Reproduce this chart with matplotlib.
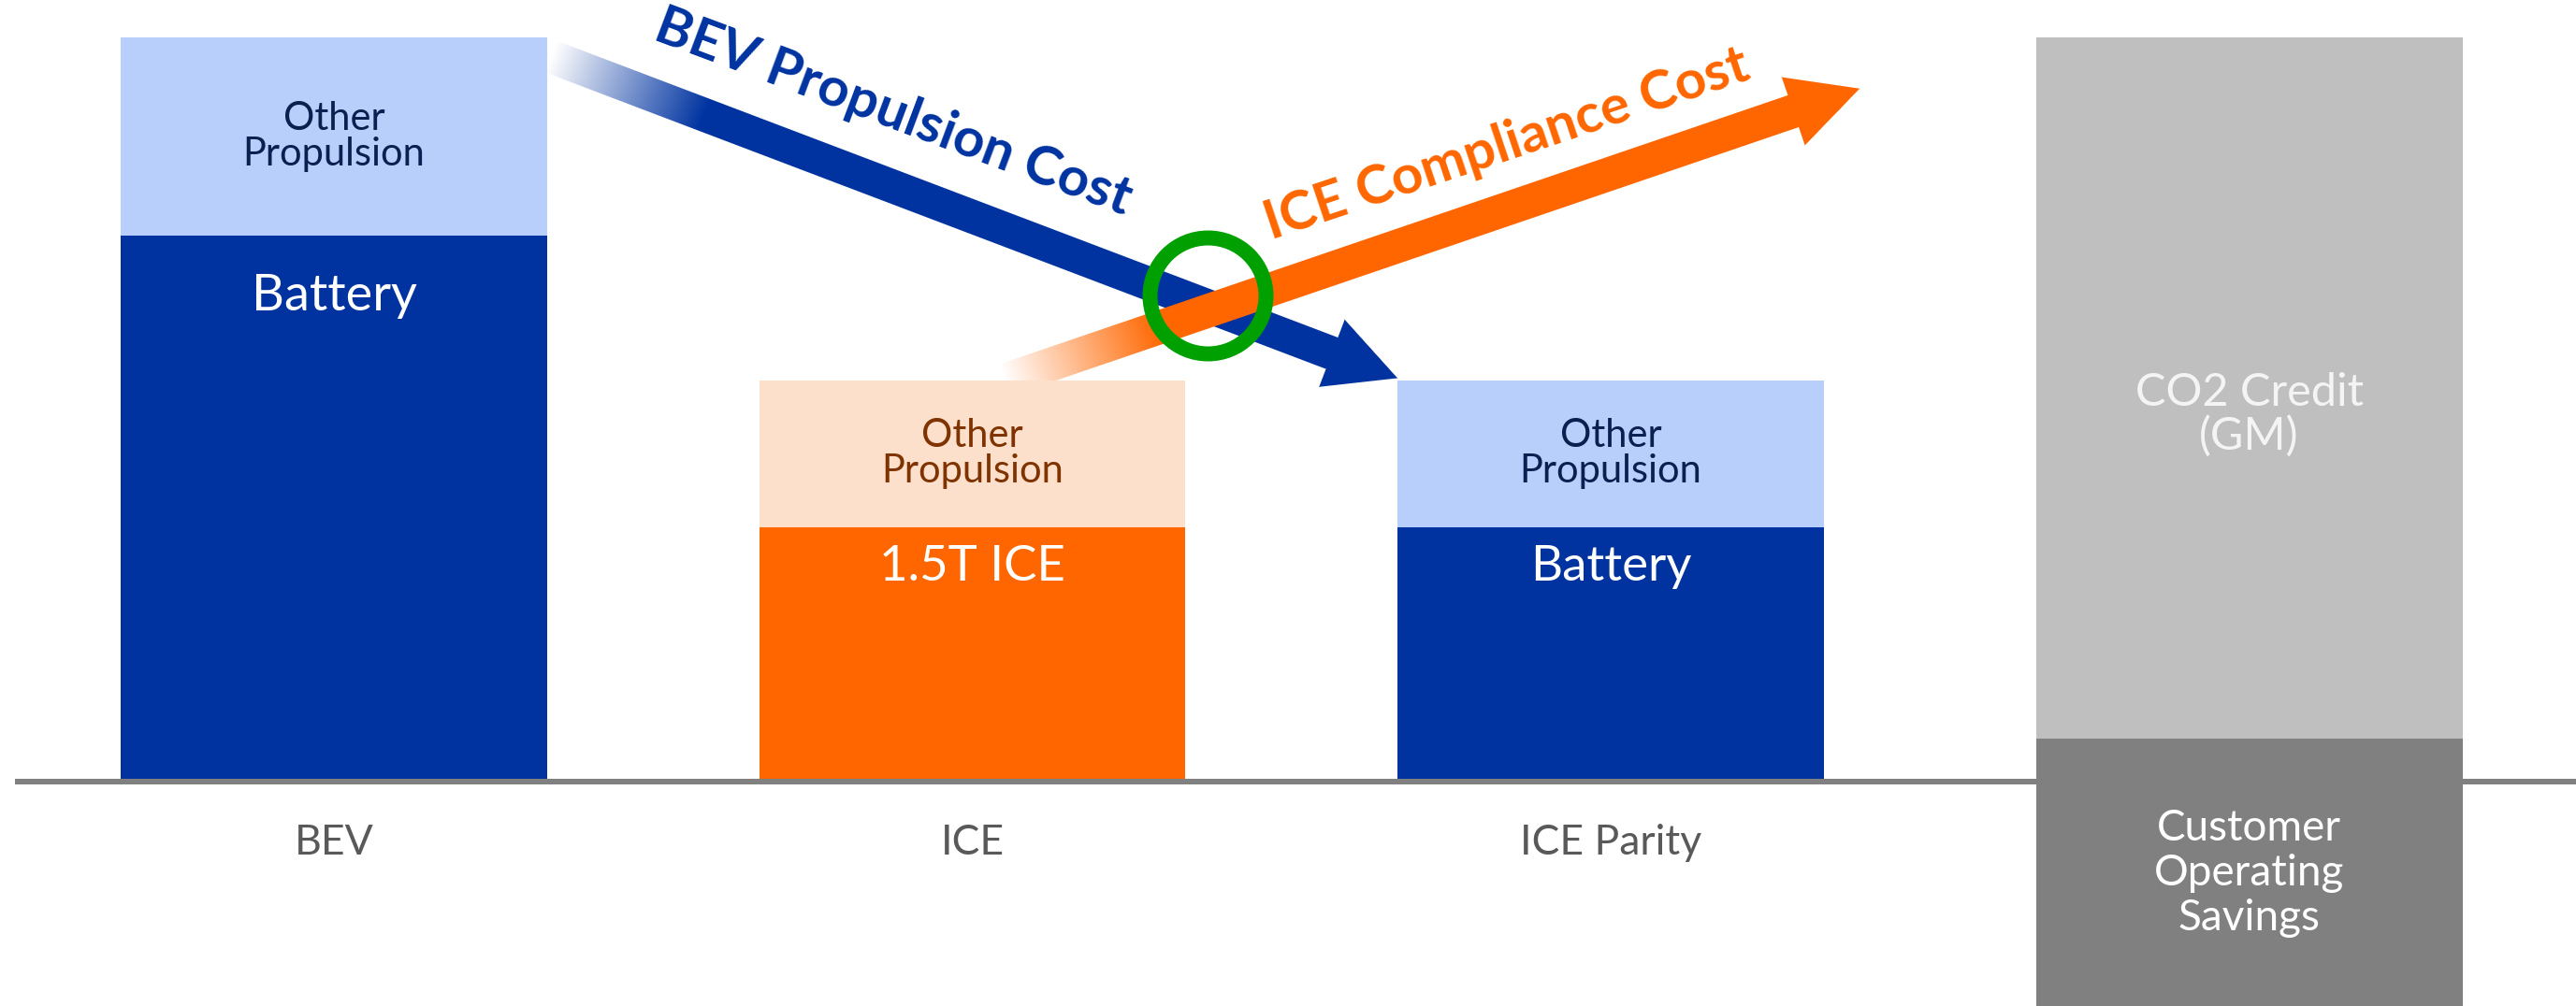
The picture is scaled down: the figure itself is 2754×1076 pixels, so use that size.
import numpy as np
import matplotlib
matplotlib.use("Agg")
import matplotlib.pyplot as plt
from matplotlib.colors import to_rgb

# ---------------- data ----------------
categories = ["BEV", "ICE", "ICE Parity"]
core_values = [73.4, 34.2, 34.2]          # Battery / 1.5T ICE / Battery
other_values = [26.6, 19.7, 19.7]         # Other Propulsion
core_labels = ["Battery", "1.5T ICE", "Battery"]
other_labels = ["Other\nPropulsion", "Other\nPropulsion", "Other\nPropulsion"]

savings_bottom = -40.0                    # Customer Operating Savings (runs off the page)
savings_top = 5.8
co2_credit = 94.2                         # CO2 Credit (GM), stacked on savings
offset_labels = ["Customer\nOperating\nSavings", "CO2 Credit\n(GM)"]

arrow_labels = ["BEV Propulsion Cost", "ICE Compliance Cost"]
orange_arrow_end = (2.39, 93.1)
crossing_mark = (1.3685, 65.3)

# ---------------- style ----------------
plt.rcParams['font.family'] = ['Lato', 'DejaVu Sans']
BLUE = "#0033A0"
LBLUE = "#B9CFFB"
ORANGE = "#FF6600"
LORANGE = "#FDE0CC"
GRAY_D = "#808080"
GRAY_L = "#BFBFBF"
GREEN = "#00A000"

core_colors = [BLUE, ORANGE, BLUE]
other_colors = [LBLUE, LORANGE, LBLUE]
other_text_colors = ["#0B1F51", "#7F3300", "#0B1F51"]

fig = plt.figure(figsize=(27.54, 10.76), dpi=100)
ax = fig.add_axes([0, 0, 1, 1])
XL = (-0.523, 3.512)
YL = (-30.15, 105.0)
ax.set_xlim(*XL)
ax.set_ylim(*YL)
ax.axis("off")
ax.set_autoscale_on(False)

x = np.arange(len(categories) + 1)
width = 0.668

ax.bar(x[:3], core_values, width, color=core_colors, zorder=2)
ax.bar(x[:3], other_values, width, bottom=core_values, color=other_colors, zorder=2)
ax.bar(x[3], savings_top - savings_bottom, width, bottom=savings_bottom, color=GRAY_D, zorder=2)
ax.bar(x[3], co2_credit, width, bottom=savings_top, color=GRAY_L, zorder=2)

ax.hlines(0, -0.5, XL[1], color=GRAY_D, lw=6 * 0.72, zorder=3)

# ---------------- labels ----------------
PX = 0.72  # points per pixel at 100 dpi
core_offsets_px = [80, 57, 57]
core_sizes = [39, 38, 38]
for i in range(3):
    ax.text(x[i], core_values[i] + other_values[i] / 2, other_labels[i], ha="center", va="center",
            fontsize=30, color=other_text_colors[i], linespacing=1.0, zorder=5)
    ax.annotate(core_labels[i], (x[i], core_values[i]), xytext=(0, -core_offsets_px[i] * PX),
                textcoords="offset points", ha="center", va="baseline",
                fontsize=core_sizes[i], color="white", zorder=5)
    ax.text(x[i], -9.8, categories[i], ha="center", va="baseline", fontsize=32,
            color="#595959", zorder=5)

ax.text(x[3], -12.3, offset_labels[0], ha="center", va="center", fontsize=33,
        color="white", linespacing=1.17, zorder=5)
ax.text(x[3], 49.3, offset_labels[1], ha="center", va="center", fontsize=35,
        color="#F4F4F4", linespacing=1.05, zorder=5)

# ---------------- arrows ----------------
W, H = fig.canvas.get_width_height()
xs = np.arange(W, dtype=np.float32) + 0.5
ys = H - (np.arange(H, dtype=np.float32) + 0.5)
GX, GY = np.meshgrid(xs, ys)


def convex_cov(pts):
    cov = np.full(GX.shape, 10.0, dtype=np.float32)
    n = len(pts)
    area = sum(pts[k][0] * pts[(k + 1) % n][1] - pts[(k + 1) % n][0] * pts[k][1] for k in range(n))
    sgn = 1.0 if area > 0 else -1.0
    for k in range(n):
        a = np.array(pts[k]); b = np.array(pts[(k + 1) % n])
        e = b - a
        le = np.hypot(*e)
        nx, ny = -e[1] / le * sgn, e[0] / le * sgn   # inward normal
        d = (GX - a[0]) * nx + (GY - a[1]) * ny
        cov = np.minimum(cov, d)
    return np.clip(cov + 0.5, 0, 1)


def draw_arrow(start, end, color, z, shaft=36.0, head_w=77.0, head_len=75.0, fade=175.0):
    T = ax.transData.transform(start)
    P = ax.transData.transform(end)
    d = P - T
    L = np.hypot(*d)
    u = d / L
    nrm = np.array([-u[1], u[0]])
    B = P - u * head_len
    hs = shaft / 2
    shaft_pts = [T + nrm * hs, B + nrm * hs + u * 2, B - nrm * hs + u * 2, T - nrm * hs]
    head_pts = [B + nrm * head_w / 2, P, B - nrm * head_w / 2]
    cov = np.maximum(convex_cov(shaft_pts), convex_cov(head_pts))
    t = (GX - T[0]) * u[0] + (GY - T[1]) * u[1]
    alpha = np.clip(t / fade, 0, 1) * cov
    rgba = np.zeros((H, W, 4), dtype=np.float32)
    rgba[..., :3] = to_rgb(color)
    rgba[..., 3] = alpha
    ax.imshow(rgba, extent=(XL[0], XL[1], YL[0], YL[1]), origin="upper", aspect="auto",
              interpolation="nearest", zorder=z)


bev_top = core_values[0] + other_values[0]
parity_top = core_values[2] + other_values[2]
ice_top = core_values[1] + other_values[1]
blue_start = (x[0] + width / 2 + 0.006, bev_top - 2.6)
blue_end = (x[2] - width / 2, parity_top + 0.3)
orange_start = (x[1] + 0.05, ice_top)

draw_arrow(blue_start, blue_end, BLUE, 1.0)
draw_arrow(orange_start, orange_arrow_end, ORANGE, 1.5)
ax.set_xlim(*XL)
ax.set_ylim(*YL)

ax.text(0.876, 89.8, arrow_labels[0], rotation=-20.5, rotation_mode="anchor", ha="center",
        va="center", fontsize=42, fontweight="bold", color=BLUE, zorder=5)
ax.text(1.837, 85.6, arrow_labels[1], rotation=18.5, rotation_mode="anchor", ha="center",
        va="center", fontsize=42, fontweight="bold", color=ORANGE, zorder=5)

ax.plot([crossing_mark[0]], [crossing_mark[1]], marker="o", markersize=124 * PX,
        markerfacecolor="none", markeredgecolor=GREEN, markeredgewidth=16 * PX, zorder=4)

fig.savefig("out.png", dpi=100)
